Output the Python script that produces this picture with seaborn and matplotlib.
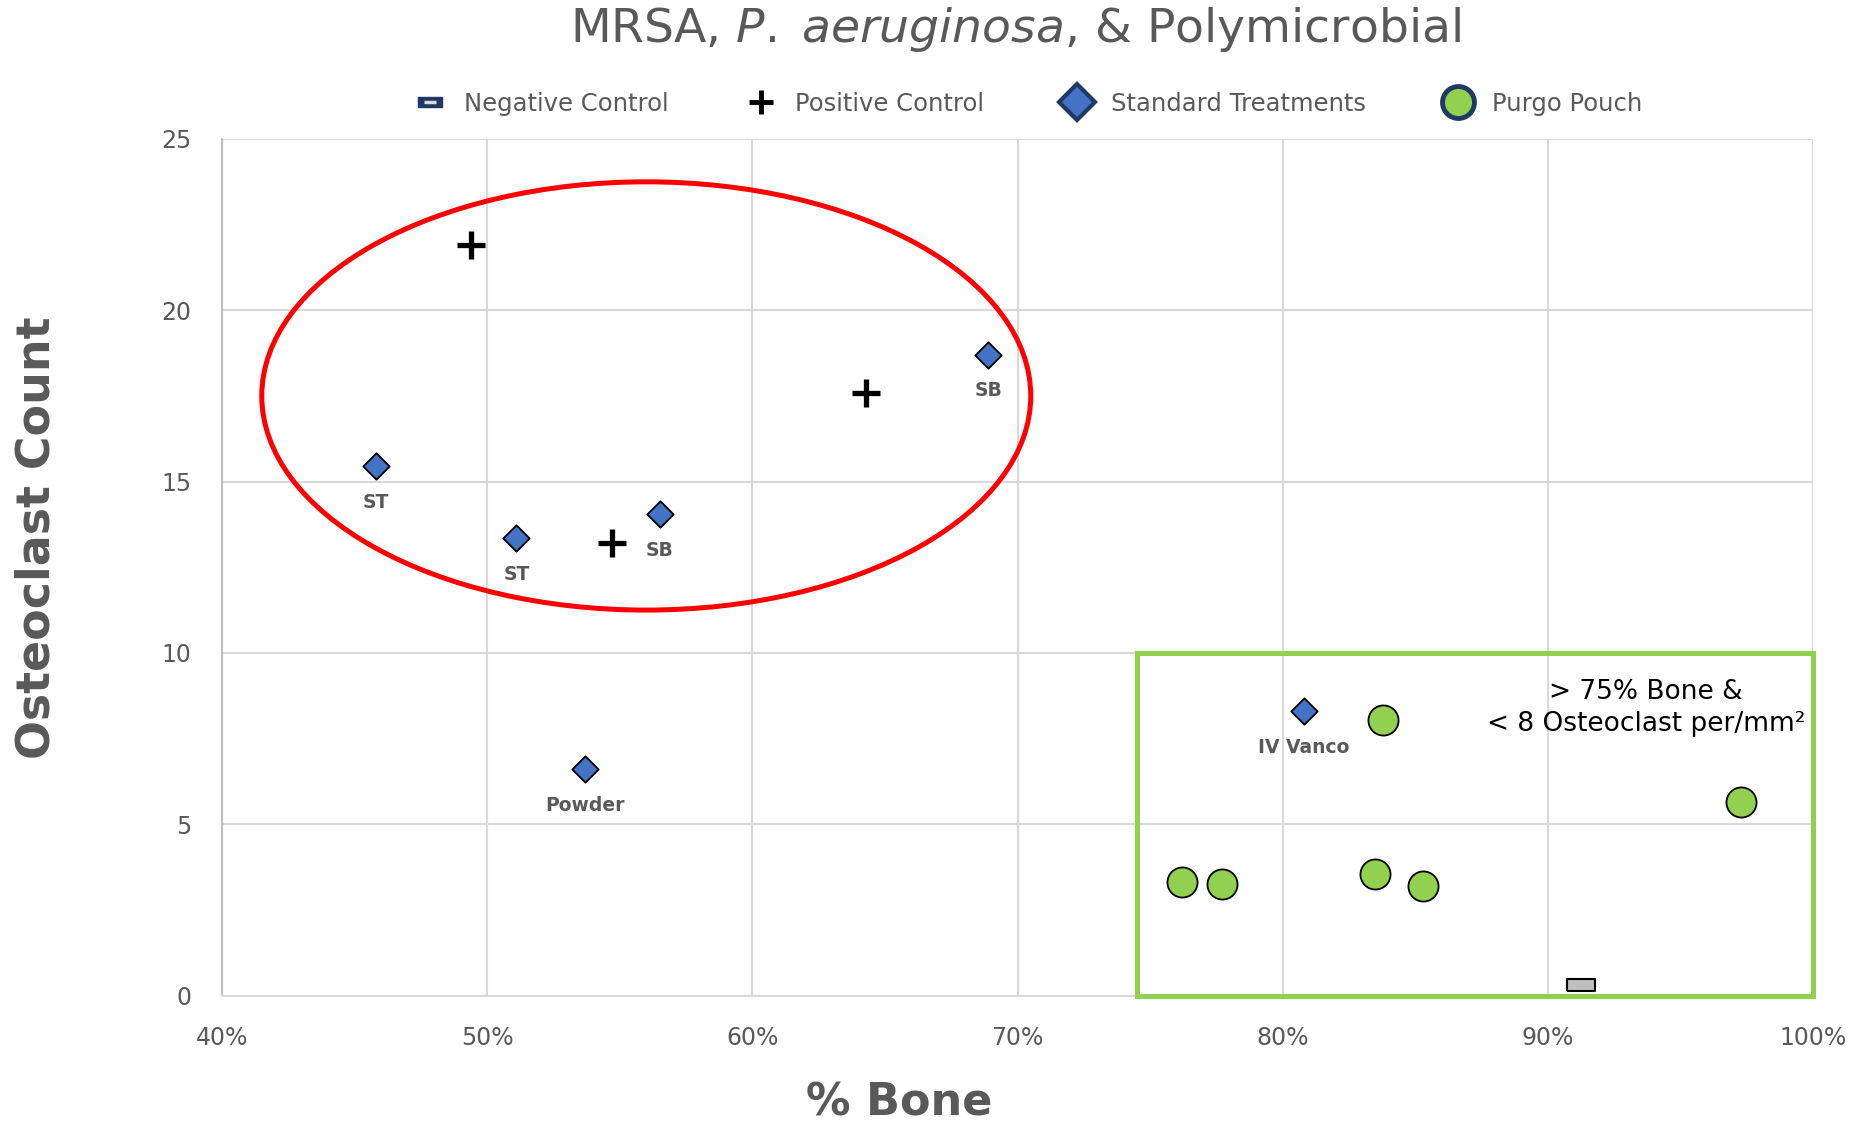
import pandas as pd
import seaborn as sns
import matplotlib.pyplot as plt
from matplotlib.patches import Ellipse, Rectangle
from matplotlib.lines import Line2D
from matplotlib.markers import MarkerStyle
from matplotlib.ticker import PercentFormatter, MultipleLocator

# values: % bone (as fraction) vs osteoclast count
neg_bone = [0.9125]
neg_osteo = [0.3]

pos_bone = [0.494, 0.643, 0.547]
pos_osteo = [21.9, 17.6, 13.2]

std_bone = [0.458, 0.511, 0.565, 0.689, 0.537, 0.808]
std_osteo = [15.45, 13.35, 14.05, 18.7, 6.6, 8.3]
std_labels = ["ST", "ST", "SB", "SB", "Powder", "IV Vanco"]

purgo_bone = [0.762, 0.777, 0.838, 0.835, 0.853, 0.973]
purgo_osteo = [3.3, 3.25, 8.05, 3.55, 3.2, 5.65]

legend_names = ["Negative Control", "Positive Control", "Standard Treatments", "Purgo Pouch"]

GRAY = "#595959"
BLUE = "#4472C4"
GREEN = "#92D050"
NAVY = "#1F3864"

sns.set_style("white")
plt.rcParams["font.family"] = ["DejaVu Sans"]
plt.rcParams["mathtext.fontset"] = "dejavusans"

fig = plt.figure(figsize=(18.5, 11.3), dpi=100)
ax = fig.add_axes([0.12, 0.119, 0.86, 0.758])

neg = pd.DataFrame({"bone": neg_bone, "osteo": neg_osteo})
pos = pd.DataFrame({"bone": pos_bone, "osteo": pos_osteo})
std = pd.DataFrame({"bone": std_bone, "osteo": std_osteo, "label": std_labels})
purgo = pd.DataFrame({"bone": purgo_bone, "osteo": purgo_osteo})

# flat rectangle marker for the negative control
rect_marker = MarkerStyle([(-1, -0.42), (1, -0.42), (1, 0.42), (-1, 0.42), (-1, -0.42)])

sns.scatterplot(data=neg, x="bone", y="osteo", ax=ax, marker=rect_marker, s=430,
                color="#BFBFBF", edgecolor="black", linewidth=1.5, zorder=5, legend=False)
sns.scatterplot(data=pos, x="bone", y="osteo", ax=ax, marker="+", s=380,
                color="black", linewidth=3.8, zorder=5, legend=False)
sns.scatterplot(data=std, x="bone", y="osteo", ax=ax, marker="D", s=180,
                color=BLUE, edgecolor="black", linewidth=1.3, zorder=5, legend=False)
sns.scatterplot(data=purgo, x="bone", y="osteo", ax=ax, marker="o", s=470,
                color=GREEN, edgecolor="black", linewidth=1.3, zorder=5, legend=False)

for _, r in std.iterrows():
    ax.annotate(r["label"], (r["bone"], r["osteo"]), xytext=(0, -26),
                textcoords="offset points", ha="center", va="center",
                fontsize=13.5, fontweight="bold", color=GRAY, zorder=6)

# highlight shapes
ax.add_patch(Ellipse((0.560, 17.5), 0.29, 12.5, fill=False, edgecolor="red",
                     linewidth=3.6, zorder=4))
ax.add_patch(Rectangle((0.745, 0), 0.255, 10, fill=False, edgecolor=GREEN,
                       linewidth=3.6, zorder=4, clip_on=False))
ax.text(0.937, 8.4, "> 75% Bone &\n< 8 Osteoclast per/mm\u00b2", ha="center", va="center",
        fontsize=19, color="black", zorder=6, linespacing=1.3)

ax.set_xlim(0.4, 1.0)
ax.set_ylim(0, 25)
ax.xaxis.set_major_locator(MultipleLocator(0.1))
ax.yaxis.set_major_locator(MultipleLocator(5))
ax.xaxis.set_major_formatter(PercentFormatter(1.0, decimals=0))
ax.grid(True, color="#D9D9D9", linewidth=1.5, zorder=0)
ax.set_axisbelow(True)
for side in ["top", "right"]:
    ax.spines[side].set_visible(False)
ax.spines["left"].set_color("#BFBFBF")
ax.spines["bottom"].set_color("#D9D9D9")
ax.spines["left"].set_linewidth(1.5)
ax.spines["bottom"].set_linewidth(1.5)
ax.tick_params(axis="both", length=0, labelsize=17, labelcolor=GRAY)
ax.tick_params(axis="x", pad=22)
ax.tick_params(axis="y", pad=22)

ax.set_xlabel("% Bone", fontsize=32, fontweight="bold", color=GRAY)
ax.xaxis.set_label_coords(0.4255, -0.100)
ax.set_ylabel("Osteoclast Count", fontsize=33, fontweight="bold", color=GRAY)
ax.yaxis.set_label_coords(-0.102, 0.535)

fig.text(0.549, 0.974, r"MRSA, $\it{P.\;aeruginosa}$, & Polymicrobial", ha="center",
         va="center", fontsize=34, color=GRAY)

neg_handle = (Line2D([], [], linestyle="none", marker=rect_marker, markersize=17,
                     markerfacecolor=NAVY, markeredgecolor=NAVY),
              Line2D([], [], linestyle="none", marker="_", markersize=9,
                     markeredgecolor="#D9D9D9", markeredgewidth=2.5))
pos_handle = Line2D([], [], linestyle="none", marker="+", markersize=17,
                    markeredgecolor="black", markeredgewidth=3.5)
std_handle = Line2D([], [], linestyle="none", marker="D", markersize=18,
                    markerfacecolor=BLUE, markeredgecolor=NAVY, markeredgewidth=3)
purgo_handle = Line2D([], [], linestyle="none", marker="o", markersize=23,
                      markerfacecolor=GREEN, markeredgecolor=NAVY, markeredgewidth=3.5)
fig.legend([neg_handle, pos_handle, std_handle, purgo_handle], legend_names,
           loc="center", bbox_to_anchor=(0.555, 0.908), ncol=4, frameon=False,
           fontsize=17.5, labelcolor=GRAY, columnspacing=3.0, handletextpad=0.6,
           handlelength=1.6)

fig.savefig("out.png", dpi=100)
